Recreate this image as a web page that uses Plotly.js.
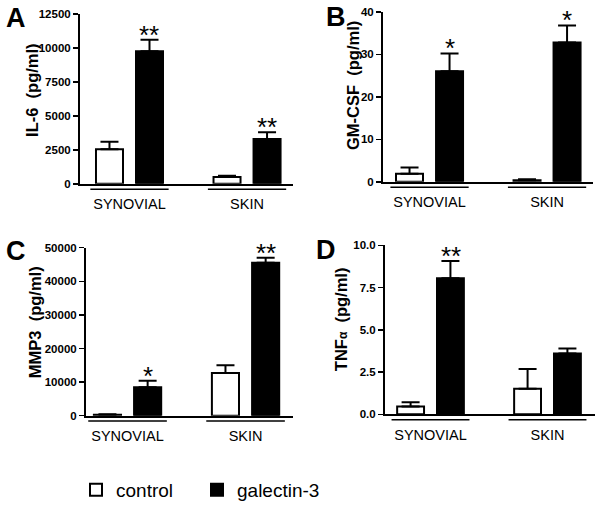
<!DOCTYPE html>
<html><head><meta charset="utf-8">
<script src="https://cdn.plot.ly/plotly-3.0.1.min.js"></script>
<style>html,body{margin:0;padding:0;background:#fff}</style>
</head><body>
<div id="chart" style="width:600px;height:509px"></div>
<script>
const groups = ['SYNOVIAL', 'SKIN'];
const seriesNames = ['control', 'galectin-3'];

// Panel A: IL-6 (pg/ml)
const il6Control = [2550, 500];
const il6ControlErr = [550, 100];
const il6Gal = [9750, 3300];
const il6GalErr = [850, 500];
const il6Stars = ['**', '**'];

// Panel B: GM-CSF (pg/ml)
const gmControl = [1.9, 0.4];
const gmControlErr = [1.5, 0.2];
const gmGal = [26, 32.8];
const gmGalErr = [4.2, 4.0];
const gmStars = ['*', '*'];

// Panel C: MMP3 (pg/ml)
const mmpControl = [300, 12700];
const mmpControlErr = [150, 2300];
const mmpGal = [8500, 45500];
const mmpGalErr = [1900, 1500];
const mmpStars = ['*', '**'];

// Panel D: TNFα (pg/ml)
const tnfControl = [0.47, 1.52];
const tnfControlErr = [0.25, 1.17];
const tnfGal = [8.05, 3.6];
const tnfGalErr = [1.03, 0.3];
const tnfStars = ['**', ''];

const panels = [
  {ax: '', letter: 'A', title: 'IL-6\u00a0 (pg/ml)', c: il6Control, ce: il6ControlErr, g: il6Gal, ge: il6GalErr, stars: il6Stars,
   xdom: [80, 293], ydom: [186, 14], xr: [-0.421, 1.391], yr: [0, 12500], dtick: 2500, fmt: 'd',
   titlePos: [32, 91], letterPos: [16, 18]},
  {ax: '2', letter: 'B', title: 'GM-CSF\u00a0 (pg/ml)', c: gmControl, ce: gmControlErr, g: gmGal, ge: gmGalErr, stars: gmStars,
   xdom: [383, 593], ydom: [184, 12], xr: [-0.396, 1.391], yr: [0, 40], dtick: 10, fmt: 'd',
   titlePos: [353, 87], letterPos: [336, 17]},
  {ax: '3', letter: 'C', title: 'MMP3\u00a0 (pg/ml)', c: mmpControl, ce: mmpControlErr, g: mmpGal, ge: mmpGalErr, stars: mmpStars,
   xdom: [86, 293], ydom: [420.7, 250.7], xr: [-0.352, 1.402], yr: [0, 50000], dtick: 10000, fmt: 'd',
   titlePos: [35, 326], letterPos: [16, 254]},
  {ax: '4', letter: 'D', title: 'TNF<span style="font-size:12px">α</span>\u00a0 (pg/ml)', c: tnfControl, ce: tnfControlErr, g: tnfGal, ge: tnfGalErr, stars: tnfStars,
   xdom: [385, 595], ydom: [419.3, 248.3], xr: [-0.389, 1.406], yr: [0, 10], dtick: 2.5, fmt: '.1f',
   titlePos: [341, 323], letterPos: [326, 253]}
];

const W = 600, H = 509;
const FONT = 'Liberation Sans, Arial, sans-serif';
const traces = [];
const annotations = [];
const shapes = [];
const legendBase = {orientation: 'h', y: 1 - 496 / H, xanchor: 'left', yanchor: 'middle',
  font: {size: 19, family: FONT, color: '#000'}, itemwidth: 30, bgcolor: 'rgba(0,0,0,0)'};
const layout = {
  width: W, height: H,
  margin: {l: 0, r: 0, t: 0, b: 0},
  paper_bgcolor: '#fff', plot_bgcolor: '#fff',
  font: {family: FONT, color: '#000'},
  barmode: 'group', bargap: 0.319, bargroupgap: 0.325,
  showlegend: true,
  legend: Object.assign({}, legendBase, {x: 76 / W}),
  legend2: Object.assign({}, legendBase, {x: 197 / W}),
  annotations: annotations, shapes: shapes
};

panels.forEach((p, k) => {
  const xa = 'x' + p.ax, ya = 'y' + p.ax;
  traces.push({
    type: 'bar', name: seriesNames[0], x: groups, y: p.c, xaxis: xa, yaxis: ya,
    marker: {color: '#fff', line: {color: '#000', width: 2}},
    error_y: {type: 'data', symmetric: false, array: p.ce, arrayminus: [0, 0], color: '#000', thickness: 2, width: 9},
    showlegend: k === 0, legend: 'legend', hoverinfo: 'skip'
  });
  traces.push({
    type: 'bar', name: seriesNames[1], x: groups, y: p.g, xaxis: xa, yaxis: ya,
    marker: {color: '#000', line: {color: '#000', width: 2}},
    error_y: {type: 'data', symmetric: false, array: p.ge, arrayminus: [0, 0], color: '#000', thickness: 2, width: 9},
    showlegend: k === 0, legend: 'legend2', hoverinfo: 'skip'
  });
  layout['xaxis' + p.ax] = {
    domain: [p.xdom[0] / W, p.xdom[1] / W], anchor: ya, range: p.xr, type: 'category',
    showline: true, linecolor: '#000', linewidth: 2, ticks: '', showgrid: false, zeroline: false,
    tickfont: {size: 14.5, family: FONT, color: '#000'}, ticklabelstandoff: 6, fixedrange: true
  };
  layout['yaxis' + p.ax] = {
    domain: [1 - p.ydom[0] / H, 1 - p.ydom[1] / H], anchor: xa, range: p.yr, dtick: p.dtick, tick0: 0,
    tickformat: p.fmt, showline: true, linecolor: '#000', linewidth: 2, ticks: 'outside', ticklen: 5,
    tickwidth: 1.5, tickcolor: '#000', showgrid: false, zeroline: false,
    tickfont: {size: 11.5, family: FONT, color: '#000', weight: 'bold'}, fixedrange: true
  };
  // y title
  annotations.push({xref: 'paper', yref: 'paper', x: p.titlePos[0] / W, y: 1 - p.titlePos[1] / H,
    text: p.title, textangle: -90, showarrow: false, xanchor: 'center', yanchor: 'middle',
    font: {size: 16.5, family: FONT, color: '#000', weight: 'bold'}});
  // panel letter
  annotations.push({xref: 'paper', yref: 'paper', x: p.letterPos[0] / W, y: 1 - p.letterPos[1] / H,
    text: p.letter, showarrow: false, xanchor: 'center', yanchor: 'middle',
    font: {size: 27, family: FONT, color: '#000', weight: 'bold'}});
  // significance stars above galectin bars
  groups.forEach((gname, i) => {
    if (p.stars[i]) {
      annotations.push({xref: xa, yref: ya, x: gname, y: p.g[i] + p.ge[i], xshift: 20, yshift: 5,
        text: p.stars[i], showarrow: false, xanchor: 'center', yanchor: 'middle',
        font: {size: 26, family: FONT, color: '#000'}});
    }
    // group underline
    shapes.push({type: 'line', xref: xa, yref: ya + ' domain', x0: i - 0.333, x1: i + 0.333,
      y0: -0.032, y1: -0.032, line: {color: '#000', width: 1.5}});
  });
});

Plotly.newPlot('chart', traces, layout, {staticPlot: true, displayModeBar: false});
</script>
</body></html>
